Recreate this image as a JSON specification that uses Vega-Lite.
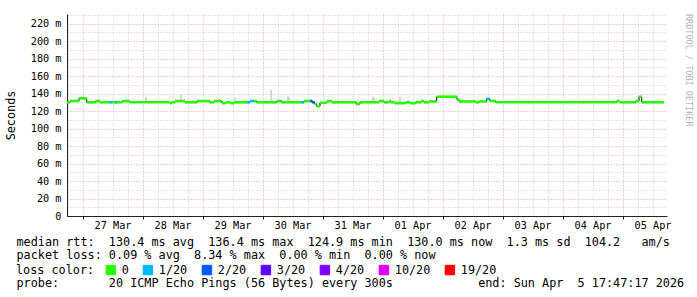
{
  "$schema": "https://vega.github.io/schema/vega-lite/v6.json",
  "width": 600,
  "height": 202,
  "autosize": {"type": "none"},
  "padding": {"left": 67, "top": 14, "right": 30, "bottom": 81},
  "background": "white",
  "config": {"view": {"stroke": null}, "font": "DejaVu Sans Mono"},
  "title": {"text": "RRDTOOL / TOBI OETIKER", "orient": "right", "anchor": "start", "angle": 90, "font": "DejaVu Sans Mono", "fontSize": 8.5, "fontWeight": "normal", "color": "#b4b4b4", "offset": 1, "frame": "group"},
  "datasets": {
    "median": [
      {"t": "2026-03-26T17:47:00Z", "t1": "2026-03-26T18:59:00Z", "v": 130.0, "loss": "0"},
      {"t": "2026-03-26T18:59:00Z", "t1": "2026-03-26T22:35:00Z", "v": 131.5, "loss": "0"},
      {"t": "2026-03-26T22:35:00Z", "t1": "2026-03-27T01:40:00Z", "v": 134.5, "loss": "0"},
      {"t": "2026-03-27T01:40:00Z", "t1": "2026-03-27T05:16:00Z", "v": 130.0, "loss": "0"},
      {"t": "2026-03-27T05:16:00Z", "t1": "2026-03-27T06:59:00Z", "v": 131.5, "loss": "0"},
      {"t": "2026-03-27T06:59:00Z", "t1": "2026-03-27T10:59:00Z", "v": 130.0, "loss": "0"},
      {"t": "2026-03-27T10:59:00Z", "t1": "2026-03-27T11:47:00Z", "v": 130.0, "loss": "1/20"},
      {"t": "2026-03-27T11:47:00Z", "t1": "2026-03-27T12:59:00Z", "v": 130.0, "loss": "0"},
      {"t": "2026-03-27T12:59:00Z", "t1": "2026-03-27T13:47:00Z", "v": 130.0, "loss": "1/20"},
      {"t": "2026-03-27T13:47:00Z", "t1": "2026-03-27T15:54:00Z", "v": 130.0, "loss": "0"},
      {"t": "2026-03-27T15:54:00Z", "t1": "2026-03-27T18:52:00Z", "v": 131.5, "loss": "0"},
      {"t": "2026-03-27T18:52:00Z", "t1": "2026-03-28T10:59:00Z", "v": 130.0, "loss": "0"},
      {"t": "2026-03-28T10:59:00Z", "t1": "2026-03-28T11:40:00Z", "v": 129.0, "loss": "0"},
      {"t": "2026-03-28T11:40:00Z", "t1": "2026-03-28T12:59:00Z", "v": 130.0, "loss": "0"},
      {"t": "2026-03-28T12:59:00Z", "t1": "2026-03-28T16:59:00Z", "v": 131.5, "loss": "0"},
      {"t": "2026-03-28T16:59:00Z", "t1": "2026-03-28T21:54:00Z", "v": 130.0, "loss": "0"},
      {"t": "2026-03-28T21:54:00Z", "t1": "2026-03-29T02:52:00Z", "v": 131.5, "loss": "0"},
      {"t": "2026-03-29T02:52:00Z", "t1": "2026-03-29T04:35:00Z", "v": 130.0, "loss": "0"},
      {"t": "2026-03-29T04:35:00Z", "t1": "2026-03-29T07:47:00Z", "v": 131.5, "loss": "0"},
      {"t": "2026-03-29T07:47:00Z", "t1": "2026-03-29T09:23:00Z", "v": 129.0, "loss": "0"},
      {"t": "2026-03-29T09:23:00Z", "t1": "2026-03-29T11:16:00Z", "v": 130.0, "loss": "0"},
      {"t": "2026-03-29T11:16:00Z", "t1": "2026-03-29T12:35:00Z", "v": 129.0, "loss": "0"},
      {"t": "2026-03-29T12:35:00Z", "t1": "2026-03-29T17:54:00Z", "v": 130.0, "loss": "0"},
      {"t": "2026-03-29T17:54:00Z", "t1": "2026-03-29T18:59:00Z", "v": 130.0, "loss": "1/20"},
      {"t": "2026-03-29T18:59:00Z", "t1": "2026-03-29T20:35:00Z", "v": 131.5, "loss": "1/20"},
      {"t": "2026-03-29T20:35:00Z", "t1": "2026-03-29T21:40:00Z", "v": 131.5, "loss": "0"},
      {"t": "2026-03-29T21:40:00Z", "t1": "2026-03-30T05:40:00Z", "v": 130.0, "loss": "0"},
      {"t": "2026-03-30T05:40:00Z", "t1": "2026-03-30T07:40:00Z", "v": 131.5, "loss": "0"},
      {"t": "2026-03-30T07:40:00Z", "t1": "2026-03-30T15:40:00Z", "v": 130.0, "loss": "0"},
      {"t": "2026-03-30T15:40:00Z", "t1": "2026-03-30T16:35:00Z", "v": 130.0, "loss": "1/20"},
      {"t": "2026-03-30T16:35:00Z", "t1": "2026-03-30T18:59:00Z", "v": 131.5, "loss": "0"},
      {"t": "2026-03-30T18:59:00Z", "t1": "2026-03-30T19:54:00Z", "v": 131.5, "loss": "2/20"},
      {"t": "2026-03-30T19:54:00Z", "t1": "2026-03-30T20:52:00Z", "v": 130.0, "loss": "2/20"},
      {"t": "2026-03-30T20:52:00Z", "t1": "2026-03-30T21:40:00Z", "v": 128.0, "loss": "0"},
      {"t": "2026-03-30T21:40:00Z", "t1": "2026-03-30T22:59:00Z", "v": 125.5, "loss": "0"},
      {"t": "2026-03-30T22:59:00Z", "t1": "2026-03-31T01:47:00Z", "v": 129.5, "loss": "0"},
      {"t": "2026-03-31T01:47:00Z", "t1": "2026-03-31T03:47:00Z", "v": 131.5, "loss": "0"},
      {"t": "2026-03-31T03:47:00Z", "t1": "2026-03-31T13:30:00Z", "v": 130.0, "loss": "0"},
      {"t": "2026-03-31T13:30:00Z", "t1": "2026-03-31T14:59:00Z", "v": 128.0, "loss": "0"},
      {"t": "2026-03-31T14:59:00Z", "t1": "2026-03-31T22:35:00Z", "v": 130.0, "loss": "0"},
      {"t": "2026-03-31T22:35:00Z", "t1": "2026-04-01T00:35:00Z", "v": 131.5, "loss": "0"},
      {"t": "2026-04-01T00:35:00Z", "t1": "2026-04-01T02:35:00Z", "v": 130.0, "loss": "0"},
      {"t": "2026-04-01T02:35:00Z", "t1": "2026-04-01T03:16:00Z", "v": 131.5, "loss": "0"},
      {"t": "2026-04-01T03:16:00Z", "t1": "2026-04-01T04:59:00Z", "v": 130.0, "loss": "0"},
      {"t": "2026-04-01T04:59:00Z", "t1": "2026-04-01T09:16:00Z", "v": 129.0, "loss": "0"},
      {"t": "2026-04-01T09:16:00Z", "t1": "2026-04-01T10:59:00Z", "v": 130.0, "loss": "0"},
      {"t": "2026-04-01T10:59:00Z", "t1": "2026-04-01T13:16:00Z", "v": 129.0, "loss": "0"},
      {"t": "2026-04-01T13:16:00Z", "t1": "2026-04-01T15:23:00Z", "v": 130.0, "loss": "0"},
      {"t": "2026-04-01T15:23:00Z", "t1": "2026-04-01T16:35:00Z", "v": 131.5, "loss": "0"},
      {"t": "2026-04-01T16:35:00Z", "t1": "2026-04-01T18:35:00Z", "v": 130.0, "loss": "0"},
      {"t": "2026-04-01T18:35:00Z", "t1": "2026-04-01T21:40:00Z", "v": 131.0, "loss": "0"},
      {"t": "2026-04-01T21:40:00Z", "t1": "2026-04-02T05:47:00Z", "v": 136.4, "loss": "0"},
      {"t": "2026-04-02T05:47:00Z", "t1": "2026-04-02T06:42:00Z", "v": 133.0, "loss": "0"},
      {"t": "2026-04-02T06:42:00Z", "t1": "2026-04-02T13:23:00Z", "v": 131.0, "loss": "0"},
      {"t": "2026-04-02T13:23:00Z", "t1": "2026-04-02T14:35:00Z", "v": 130.0, "loss": "0"},
      {"t": "2026-04-02T14:35:00Z", "t1": "2026-04-02T17:40:00Z", "v": 131.0, "loss": "0"},
      {"t": "2026-04-02T17:40:00Z", "t1": "2026-04-02T18:59:00Z", "v": 134.0, "loss": "1/20"},
      {"t": "2026-04-02T18:59:00Z", "t1": "2026-04-02T21:16:00Z", "v": 131.5, "loss": "0"},
      {"t": "2026-04-02T21:16:00Z", "t1": "2026-04-04T21:40:00Z", "v": 130.0, "loss": "0"},
      {"t": "2026-04-04T21:40:00Z", "t1": "2026-04-04T22:59:00Z", "v": 131.5, "loss": "0"},
      {"t": "2026-04-04T22:59:00Z", "t1": "2026-04-05T05:16:00Z", "v": 130.0, "loss": "0"},
      {"t": "2026-04-05T05:16:00Z", "t1": "2026-04-05T06:35:00Z", "v": 131.5, "loss": "0"},
      {"t": "2026-04-05T06:35:00Z", "t1": "2026-04-05T07:40:00Z", "v": 136.4, "loss": "0"},
      {"t": "2026-04-05T07:40:00Z", "t1": "2026-04-05T16:35:00Z", "v": 130.0, "loss": "0"}
    ],
    "smoke": [
      {"t": "2026-03-28T00:59:00Z", "t1": "2026-03-28T01:47:00Z", "v": 130, "hi": 136},
      {"t": "2026-03-28T14:59:00Z", "t1": "2026-03-28T15:47:00Z", "v": 130, "hi": 138.5},
      {"t": "2026-03-29T12:35:00Z", "t1": "2026-03-29T13:23:00Z", "v": 130, "hi": 135.5},
      {"t": "2026-03-30T02:59:00Z", "t1": "2026-03-30T03:47:00Z", "v": 130, "hi": 144},
      {"t": "2026-03-30T09:47:00Z", "t1": "2026-03-30T10:59:00Z", "v": 130, "hi": 136.5},
      {"t": "2026-03-31T05:47:00Z", "t1": "2026-03-31T06:35:00Z", "v": 130, "hi": 132.5},
      {"t": "2026-03-31T19:47:00Z", "t1": "2026-03-31T20:59:00Z", "v": 130, "hi": 136.4},
      {"t": "2026-04-01T06:35:00Z", "t1": "2026-04-01T07:23:00Z", "v": 130, "hi": 136}
    ]
  },
  "data": {"name": "median"},
  "encoding": {
    "x": {
      "field": "t", "type": "temporal",
      "scale": {"type": "utc", "domain": [1774547237000, 1775411237000]},
      "axis": {
        "title": ["median rtt:\u00a0\u00a0130.4 ms avg\u00a0\u00a0136.4 ms max\u00a0\u00a0124.9 ms min\u00a0\u00a0130.0 ms now\u00a0\u00a01.3 ms sd\u00a0\u00a0104.2\u00a0\u00a0\u00a0am/s", "packet loss: 0.09 % avg\u00a0\u00a08.34 % max\u00a0\u00a00.00 % min\u00a0\u00a00.00 % now", "\u200b", "probe:\u00a0\u00a0\u00a0\u00a0\u00a0\u00a0\u00a020 ICMP Echo Pings (56 Bytes) every 300s\u00a0\u00a0\u00a0\u00a0\u00a0\u00a0\u00a0\u00a0\u00a0\u00a0\u00a0\u00a0end: Sun Apr\u00a0\u00a05 17:47:17 2026"],
        "titleFont": "DejaVu Sans Mono", "titleFontSize": 11.8, "titleFontWeight": "normal", "titleColor": "#000000",
        "titleAlign": "left", "titleAnchor": "start", "titleAngle": 0, "titleBaseline": "top", "titleX": -51, "titleY": 20,
        "values": [1774548000000, 1774569600000, 1774591200000, 1774612800000, 1774634400000, 1774656000000, 1774677600000, 1774699200000, 1774720800000, 1774742400000, 1774764000000, 1774785600000, 1774807200000, 1774828800000, 1774850400000, 1774872000000, 1774893600000, 1774915200000, 1774936800000, 1774958400000, 1774980000000, 1775001600000, 1775023200000, 1775044800000, 1775066400000, 1775088000000, 1775109600000, 1775131200000, 1775152800000, 1775174400000, 1775196000000, 1775217600000, 1775239200000, 1775260800000, 1775282400000, 1775304000000, 1775325600000, 1775347200000, 1775368800000, 1775390400000],
        "grid": true,
        "gridColor": {"condition": {"test": "utchours(datum.value) == 0", "value": "#f0a4a4"}, "value": "#cccccc"},
        "gridDash": [1, 2], "gridWidth": 1,
        "domainColor": "#222222", "domainWidth": 1,
        "ticks": true, "tickSize": 3, "tickColor": "#000000",
        "tickOpacity": {"condition": {"test": "utchours(datum.value) == 0", "value": 1}, "value": 0},
        "labelExpr": "utchours(datum.value) == 0 ? utcFormat(datum.value, '%d %b') : ''",
        "labelOffset": {"condition": {"test": "utchours(datum.value) == 0", "value": 30}, "value": 0},
        "labelFont": "DejaVu Sans Mono", "labelFontSize": 10.2, "labelColor": "#000000",
        "labelPadding": 1, "labelOverlap": false, "labelFlush": false, "labelBound": false, "labelAngle": 0
      }
    },
    "y": {
      "field": "v", "type": "quantitative",
      "scale": {"domain": [0, 231], "nice": false, "zero": true},
      "axis": {
        "title": "Seconds", "titleFont": "DejaVu Sans Mono", "titleFontSize": 11.8, "titleFontWeight": "normal", "titleColor": "#000000",
        "titleX": -57, "titleY": 101, "titleAngle": -90, "titleAlign": "center", "titleBaseline": "middle",
        "values": [0, 10, 20, 30, 40, 50, 60, 70, 80, 90, 100, 110, 120, 130, 140, 150, 160, 170, 180, 190, 200, 210, 220, 230],
        "grid": true,
        "gridColor": {"condition": {"test": "datum.value % 20 == 0", "value": "#f0a4a4"}, "value": "#cccccc"},
        "gridDash": [1, 2], "gridWidth": 1,
        "ticks": false, "domainColor": "#222222", "domainWidth": 1,
        "labelExpr": "datum.value % 20 != 0 ? '' : (datum.value == 0 ? '0\u00a0\u00a0' : datum.value + ' m')",
        "labelFont": "DejaVu Sans Mono", "labelFontSize": 10.2, "labelColor": "#000000", "labelPadding": 6,
        "labelOverlap": false, "labelFlush": false, "labelBound": false
      }
    }
  },
  "layer": [
    {
      "data": {"name": "smoke"},
      "mark": {"type": "rect", "color": "#d6d6d6"},
      "encoding": {"x2": {"field": "t1"}, "y2": {"field": "hi"}}
    },
    {
      "mark": {"type": "line", "interpolate": "step-after", "color": "#000000", "strokeWidth": 1},
      "encoding": {}
    },
    {
      "mark": {"type": "rule", "strokeWidth": 2.6, "strokeCap": "butt"},
      "encoding": {
        "x2": {"field": "t1"},
        "color": {
          "field": "loss", "type": "nominal",
          "scale": {"domain": ["0", "1/20", "2/20", "3/20", "4/20", "10/20", "19/20"], "range": ["#26ff00", "#00b8ff", "#0059ff", "#5e00ff", "#7e00ff", "#dd00ff", "#ff0000"]},
          "legend": {
            "orient": "none", "legendX": -51, "legendY": 250, "direction": "horizontal",
            "title": "loss color:", "titleOrient": "left", "titleFont": "DejaVu Sans Mono", "titleFontSize": 11.8, "titleFontWeight": "normal", "titleColor": "#000000", "titlePadding": 10,
            "labelFont": "DejaVu Sans Mono", "labelFontSize": 11.8, "labelColor": "#000000", "labelOffset": 5, "columnPadding": 12,
            "symbolType": "square", "symbolSize": 90,
            "encode": {"symbols": {"update": {"fill": {"scale": "color", "field": "value"}, "stroke": {"value": "#000000"}, "strokeWidth": {"value": 1}, "opacity": {"value": 1}, "fillOpacity": {"value": 1}}}}
          }
        }
      }
    },
    {
      "data": {"values": [{"k": 1}]},
      "mark": {"type": "point", "shape": "triangle-right", "filled": true, "color": "#8b1010", "size": 28, "opacity": 1},
      "encoding": {
        "x": {"datum": 1775411237000, "type": "temporal"},
        "y": {"datum": 0, "type": "quantitative"}
      }
    },
    {
      "data": {"values": [{"k": 1}]},
      "mark": {"type": "point", "shape": "triangle-up", "filled": true, "color": "#8b1010", "size": 28, "opacity": 1},
      "encoding": {
        "x": {"datum": 1774547237000, "type": "temporal"},
        "y": {"datum": 231, "type": "quantitative"}
      }
    }
  ]
}
